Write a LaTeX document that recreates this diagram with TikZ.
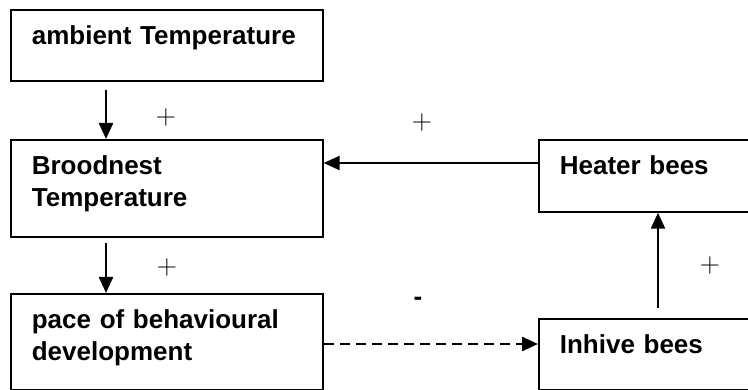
\documentclass[tikz,border=0pt]{standalone}
\usepackage{fontspec}
\usepackage{tikz}
\usetikzlibrary{arrows.meta}
\newfontfamily\boxfont{Liberation Sans}

\begin{document}
\begin{tikzpicture}[x=1pt, y=-1pt,
    box/.style={draw, line width=1.7pt, anchor=north west, inner xsep=21pt, inner ysep=0pt,
        align=left, text height=35pt, font=\boxfont\bfseries\fontsize{26}{31.5}\selectfont},
    arr/.style={line width=2.4pt, -{Triangle[length=16pt, width=14pt]}},
    sign/.style={font=\rmfamily\fontsize{28}{28}\selectfont}]
\useasboundingbox (0,0) rectangle (748,390);

% Boxes
\node[box, text width=270pt, text depth=36pt] (amb) at (10,9) {ambient Temperature};
\node[box, text width=270pt, text depth=62pt] (brood) at (10,139) {Broodnest\\Temperature};
\node[box, text width=270pt, text depth=61pt] (pace) at (10,293) {pace of behavioural\\development};
\node[box, text width=172pt, text depth=37pt] (heater) at (538,139) {Heater bees};
\node[box, text width=172pt, text depth=36pt] (inhive) at (538,318) {Inhive bees};

% Arrows
\draw[arr] ([xshift=96pt, yshift=-8pt]amb.south west) -- ([xshift=96pt]brood.north west);
\draw[arr] ([xshift=96pt, yshift=-5pt]brood.south west) -- ([xshift=96pt]pace.north west);
\draw[arr] ([yshift=-24pt]heater.north west) -- ([yshift=-24pt]brood.north east);
\draw[arr, dash pattern=on 10pt off 6pt] ([yshift=-51pt]pace.north east) -- ([yshift=-26pt]inhive.north west);
\draw[arr] ([xshift=120pt, yshift=10pt]inhive.north west) -- ([xshift=120pt]heater.south west);

% Signs
\node[sign] (s1) at (166,118) {+};
\node[sign] (s2) at (167,268) {+};
\node[sign] (s3) at (422,123) {+};
\node[sign] (s4) at (710,266) {+};
\node[font=\boxfont\bfseries\fontsize{26}{26}\selectfont] (s5) at (418,301) {-};
\end{tikzpicture}
\end{document}
